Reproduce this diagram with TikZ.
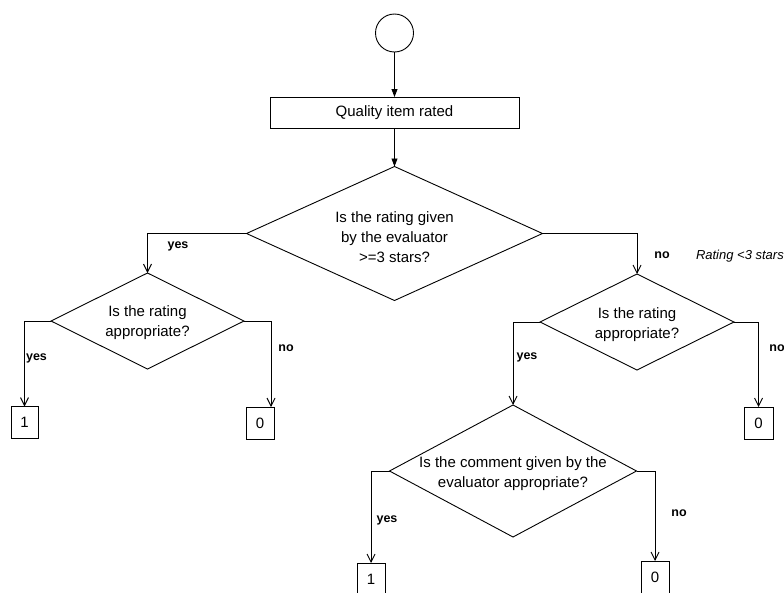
\documentclass[tikz,border=0pt]{standalone}
\usepackage{fontspec}
\setmainfont{Liberation Sans}
\usetikzlibrary{shapes.geometric,arrows.meta}
\begin{document}
\begin{tikzpicture}[x=1pt,y=-1pt,
  every node/.style={outer sep=0pt},
  line/.style={draw=black,line width=0.9pt},
  filledarrow/.style={line,-{Triangle[length=8pt,width=6pt]}},
  openarrow/.style={line,-{Straight Barb[length=8pt,width=8pt]}},
  startnode/.style={circle,draw,line width=0.9pt,minimum size=38pt,inner sep=0pt},
  processbox/.style={rectangle,draw,line width=0.9pt,minimum width=249pt,minimum height=31pt,inner sep=0pt,font=\fontsize{15}{20}\selectfont},
  decision/.style={diamond,draw,line width=0.9pt,inner sep=0pt},
  dtext/.style={align=center,inner sep=0pt,font=\fontsize{15}{20}\selectfont},
  resultbox/.style={rectangle,draw,line width=0.9pt,minimum width=28pt,minimum height=32pt,inner sep=0pt,font=\fontsize{15}{18}\selectfont},
  branchlabel/.style={inner sep=0pt,font=\fontsize{12.5}{15}\selectfont\bfseries},
  notelabel/.style={inner sep=0pt,anchor=west,font=\fontsize{13}{15}\selectfont\itshape}
]
\useasboundingbox (0,0) rectangle (784,592);

\node[startnode] (start) at (394.5,33) {};
\node[processbox] (rated) at (394.5,112.5) {Quality item rated};

\node[decision,minimum width=296pt,minimum height=134pt] (d1) at (394.5,233.5) {};
\node[dtext] (d1t) at (394.5,237) {Is the rating given\\by the evaluator\\>=3 stars?};

\node[decision,minimum width=193pt,minimum height=96pt] (d2) at (147.5,321) {};
\node[dtext] (d2t) at (147.5,323) {Is the rating\\appropriate?};

\node[decision,minimum width=194pt,minimum height=96pt] (d3) at (637,322) {};
\node[dtext] (d3t) at (637,325) {Is the rating\\appropriate?};

\node[decision,minimum width=247pt,minimum height=132pt] (d4) at (513,471) {};
\node[dtext] (d4t) at (513,473.5) {Is the comment given by the\\evaluator appropriate?};

\node[resultbox,minimum width=27pt] (r1) at (24.5,422.5) {1};
\node[resultbox] (r2) at (260,423) {0};
\node[resultbox,minimum width=29pt] (r3) at (758.5,423) {0};
\node[resultbox] (r4) at (371,579) {1};
\node[resultbox] (r5) at (655,577) {0};

\draw[filledarrow] (start) -- (rated);
\draw[filledarrow] (rated) -- (d1.north);

\draw[openarrow] (d1.west) -| (d2.north);
\draw[openarrow] (d1.east) -| (d3.north);

\draw[openarrow] (d2.west) -| (r1.north);
\draw[openarrow] (d2.east) -| ([xshift=11pt]r2.north);

\draw[openarrow] (d3.west) -| (d4.north);
\draw[openarrow] (d3.east) -| (r3.north);

\draw[openarrow] (d4.west) -| (r4.north);
\draw[openarrow] (d4.east) -| (r5.north);

\node[branchlabel] (l1) at (178,246) {yes};
\node[branchlabel] (l2) at (662,255.5) {no};
\node[notelabel] (note) at (696,256) {Rating <3 stars};

\node[branchlabel] (l3) at (36.5,358) {yes};
\node[branchlabel] (l4) at (286,348) {no};

\node[branchlabel] (l5) at (527,357) {yes};
\node[branchlabel] (l6) at (777,348) {no};

\node[branchlabel] (l7) at (387,520) {yes};
\node[branchlabel] (l8) at (679,513) {no};
\end{tikzpicture}
\end{document}
